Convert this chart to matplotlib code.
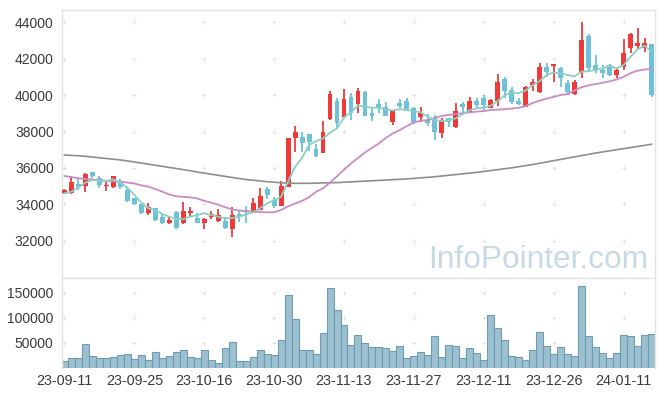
import matplotlib
matplotlib.use('Agg')
import matplotlib.pyplot as plt
import numpy as np

# ---------------- data ----------------
dates = ['23-09-11','23-09-12','23-09-13','23-09-14','23-09-15','23-09-18','23-09-19','23-09-20','23-09-21','23-09-22',
         '23-09-25','23-09-26','23-09-27','23-10-04','23-10-05','23-10-06','23-10-10','23-10-11','23-10-12','23-10-13',
         '23-10-16','23-10-17','23-10-18','23-10-19','23-10-20','23-10-23','23-10-24','23-10-25','23-10-26','23-10-27',
         '23-10-30','23-10-31','23-11-01','23-11-02','23-11-03','23-11-06','23-11-07','23-11-08','23-11-09','23-11-10',
         '23-11-13','23-11-14','23-11-15','23-11-16','23-11-17','23-11-20','23-11-21','23-11-22','23-11-23','23-11-24',
         '23-11-27','23-11-28','23-11-29','23-11-30','23-12-01','23-12-04','23-12-05','23-12-06','23-12-07','23-12-08',
         '23-12-11','23-12-12','23-12-13','23-12-14','23-12-15','23-12-18','23-12-19','23-12-20','23-12-21','23-12-22',
         '23-12-26','23-12-27','23-12-28','24-01-02','24-01-03','24-01-04','24-01-05','24-01-08','24-01-09','24-01-10',
         '24-01-11','24-01-12','24-01-15','24-01-16','24-01-17']

opens = [34650,34650,35120,35030,35780,35470,35000,34980,35250,34800,
         34330,34030,33520,33790,33330,33000,33590,32970,33550,33270,
         32970,33330,33110,33110,32640,33460,33700,33550,33700,34850,
         34230,33920,34980,37660,37720,37850,37040,36840,38670,39670,
         38810,39890,39490,40180,39010,39510,39330,38540,39580,39670,
         39270,38810,38630,38760,37930,38720,38270,39510,39090,39670,
         39820,39300,39670,40880,40270,39670,39360,40550,40180,41550,
         41600,41500,40640,40040,41240,43230,41640,41370,41640,41090,
         41550,42590,42700,42560,42780]
highs = [34850,35560,35440,35700,35800,35560,35250,35580,35380,34900,
         34350,34050,34070,33800,33400,33370,33660,34120,33880,33520,
         33250,33660,33730,33330,33880,33700,33900,34370,34890,34975,
         34430,35290,37650,38300,37960,37870,37300,38560,40220,39820,
         40330,40090,40370,40200,39360,39780,39600,39200,39760,39820,
         39320,39330,38940,38900,38720,38750,39580,39640,39910,39820,
         40000,39760,41130,41000,40450,39850,40500,40860,41730,41730,
         41720,41550,40820,40820,44020,43330,42190,41640,41680,41400,
         43070,43380,43650,43140,42800]
lows = [34550,34600,34800,34700,35440,34890,34760,34920,34850,34130,
        33950,33480,33420,33090,32930,32930,32640,32930,33330,32980,
        32640,33190,33050,32670,32200,33060,33000,33520,33680,34300,
        33790,33900,34950,36900,36860,36930,36600,36800,38650,38170,
        38800,38630,39000,38830,38590,39000,38850,38360,39270,39140,
        38410,38540,38300,37530,37630,38230,38170,39000,39000,39270,
        39180,39280,39410,39850,39490,39450,39330,40220,40130,41000,
        40730,40450,40000,40000,40950,41240,41190,40910,41050,40910,
        41370,42290,42470,42370,39900]
closes = [34800,35210,34960,35670,35580,35090,35080,35560,34950,34200,
          34000,33550,33850,33150,33000,33150,32730,33640,33660,33000,
          33200,33490,33420,32730,33420,33330,33600,34100,34460,34500,
          33920,35010,37630,37960,37390,37440,36670,37970,40040,38490,
          39780,39030,40220,38850,38870,39270,38870,39180,39410,39230,
          38540,39030,38480,37990,38610,38540,39130,39330,39670,39450,
          39450,39730,40730,40220,39630,39490,40450,40730,41550,41240,
          41700,40910,40180,40700,43010,41460,41370,41190,41090,41370,
          42290,43330,42830,42830,40000]
volumes = [13000,20300,20300,48000,24300,20300,20300,22300,26300,28300,
           18300,26300,16300,32200,20300,24300,32200,36200,22300,20300,
           36200,16300,10400,40100,52000,14400,14400,22300,36200,28300,
           26300,56000,144800,97400,36200,36200,28300,69800,158700,115200,
           85500,46000,65800,50000,42100,42100,40100,34800,44000,20300,
           24300,32200,26300,63800,22300,46000,44000,20300,40100,30200,
           16300,105300,79600,56000,24300,22300,16300,36200,71700,44000,
           28300,42100,28300,24300,162600,63800,42100,30200,20300,30200,
           65800,63800,44000,65800,67800]
ma5 = [34610,34700,34940,35195,35340,35300,35290,35380,35200,34920,
       34520,34100,33790,33700,33480,33330,33200,33200,33330,33420,
       33520,33420,33330,33240,33260,33330,33460,33570,33790,34060,
       34240,34420,35250,36070,36560,37260,37480,37620,37930,38175,
       38760,39050,39420,39360,39300,39300,39200,39160,39220,39170,
       39120,39050,38800,38630,38570,38630,38720,38960,39180,39270,
       39300,39420,39670,40000,40120,40100,40250,40550,40770,41100,
       41240,41190,41100,41020,41280,41310,41370,41460,41600,41460,
       41640,42100,42500,42700,42400]
ma20 = [35560,35500,35440,35400,35370,35330,35300,35280,35250,35200,
        35150,35050,34980,34850,34700,34550,34450,34420,34390,34330,
        34200,34100,33990,33850,33730,33670,33620,33600,33590,33570,
        33570,33700,33900,34050,34200,34400,34700,34890,35200,35550,
        35900,36250,36550,36850,37100,37350,37650,37900,38080,38300,
        38500,38600,38620,38750,38850,38910,38960,39000,39050,39090,
        39120,39180,39200,39220,39260,39300,39400,39560,39700,39800,
        39900,40000,40050,40250,40430,40530,40600,40670,40750,40850,
        41000,41200,41330,41400,41420]
ma120 = [36710,36690,36670,36640,36600,36560,36520,36480,36440,36390,
         36330,36270,36210,36150,36090,36030,35970,35910,35850,35780,
         35720,35660,35600,35540,35480,35420,35370,35330,35290,35250,
         35220,35190,35170,35160,35160,35160,35170,35180,35190,35200,
         35220,35240,35260,35280,35300,35320,35340,35360,35380,35400,
         35430,35460,35490,35520,35560,35600,35640,35680,35720,35760,
         35810,35860,35910,35960,36010,36070,36130,36190,36260,36330,
         36400,36470,36540,36610,36680,36750,36820,36880,36940,37000,
         37060,37120,37180,37240,37300]

price_ticks = [32000, 34000, 36000, 38000, 40000, 42000, 44000]
vol_ticks = [50000, 100000, 150000]
label_step = 10

# ---------------- style ----------------
UP = '#ef3a3a'
DOWN = '#6ec1d9'
FRAME = '#e4e4e4'
TXT = '#3a3a3a'
FONT = 'Liberation Sans'

W, H = 665, 396
fig = plt.figure(figsize=(W / 100, H / 100), dpi=100)
axp = fig.add_axes([62 / W, 1 - 278 / H, (655 - 62) / W, (278 - 10) / H])
axv = fig.add_axes([62 / W, 1 - 368 / H, (655 - 62) / W, (368 - 278) / H])

n = len(dates)
x = np.arange(n)
o = np.array(opens); h = np.array(highs); l = np.array(lows); c = np.array(closes)
up = c >= o
cols = np.where(up, UP, DOWN)

# grid "+" markers
gx = np.arange(0, n, label_step)
for ax, yt in ((axp, price_ticks), (axv, vol_ticks)):
    GX, GY = np.meshgrid(gx, yt)
    ax.scatter(GX.ravel(), GY.ravel(), marker='+', s=12, color='#e2e2e2',
               linewidths=0.7, zorder=0)

# candles
axp.vlines(x, l, h, colors=cols, linewidth=1.3, zorder=2)
body_bottom = np.minimum(o, c)
body_h = np.maximum(np.abs(c - o), 40)
axp.bar(x, body_h, bottom=body_bottom, width=0.7, color=cols, linewidth=0, zorder=3)

# moving averages
axp.plot(x, ma120, color='#8e8e8e', lw=1.2, zorder=4)
axp.plot(x, ma20, color='#c98bc4', lw=1.3, zorder=4)
axp.plot(x, ma5, color='#8ccfc3', lw=1.3, zorder=5)

# volume
axv.bar(x, volumes, width=1.0, color='#9cc0d0', edgecolor='#6e9db3', linewidth=0.8, zorder=2)

# axes styling
for ax in (axp, axv):
    ax.set_xlim(-0.35, n - 1 + 0.5)
    for s in ax.spines.values():
        s.set_color(FRAME)
        s.set_linewidth(1.0)
    ax.tick_params(length=0, colors=TXT, labelsize=10, pad=6)

axp.set_ylim(29970, 44660)
axp.set_yticks(price_ticks)
axp.set_yticklabels([str(v) for v in price_ticks], family=FONT, color=TXT, fontsize=10)
axp.set_xticks([])

axv.set_ylim(0, 179000)
axv.set_yticks(vol_ticks)
axv.set_yticklabels([str(v) for v in vol_ticks], family=FONT, color=TXT, fontsize=10)
axv.set_xticks(gx)
axv.set_xticklabels([dates[i] for i in gx], family=FONT, color=TXT, fontsize=10.3)
axv.spines['bottom'].set_visible(False)
axv.tick_params(axis='x', pad=4)

# watermark
fig.text(648 / W, 1 - 268 / H, 'InfoPointer.com', ha='right', va='baseline',
         fontsize=22.8, color='#c7d9e5', family=FONT, zorder=1)

fig.savefig('out.png', dpi=100)
